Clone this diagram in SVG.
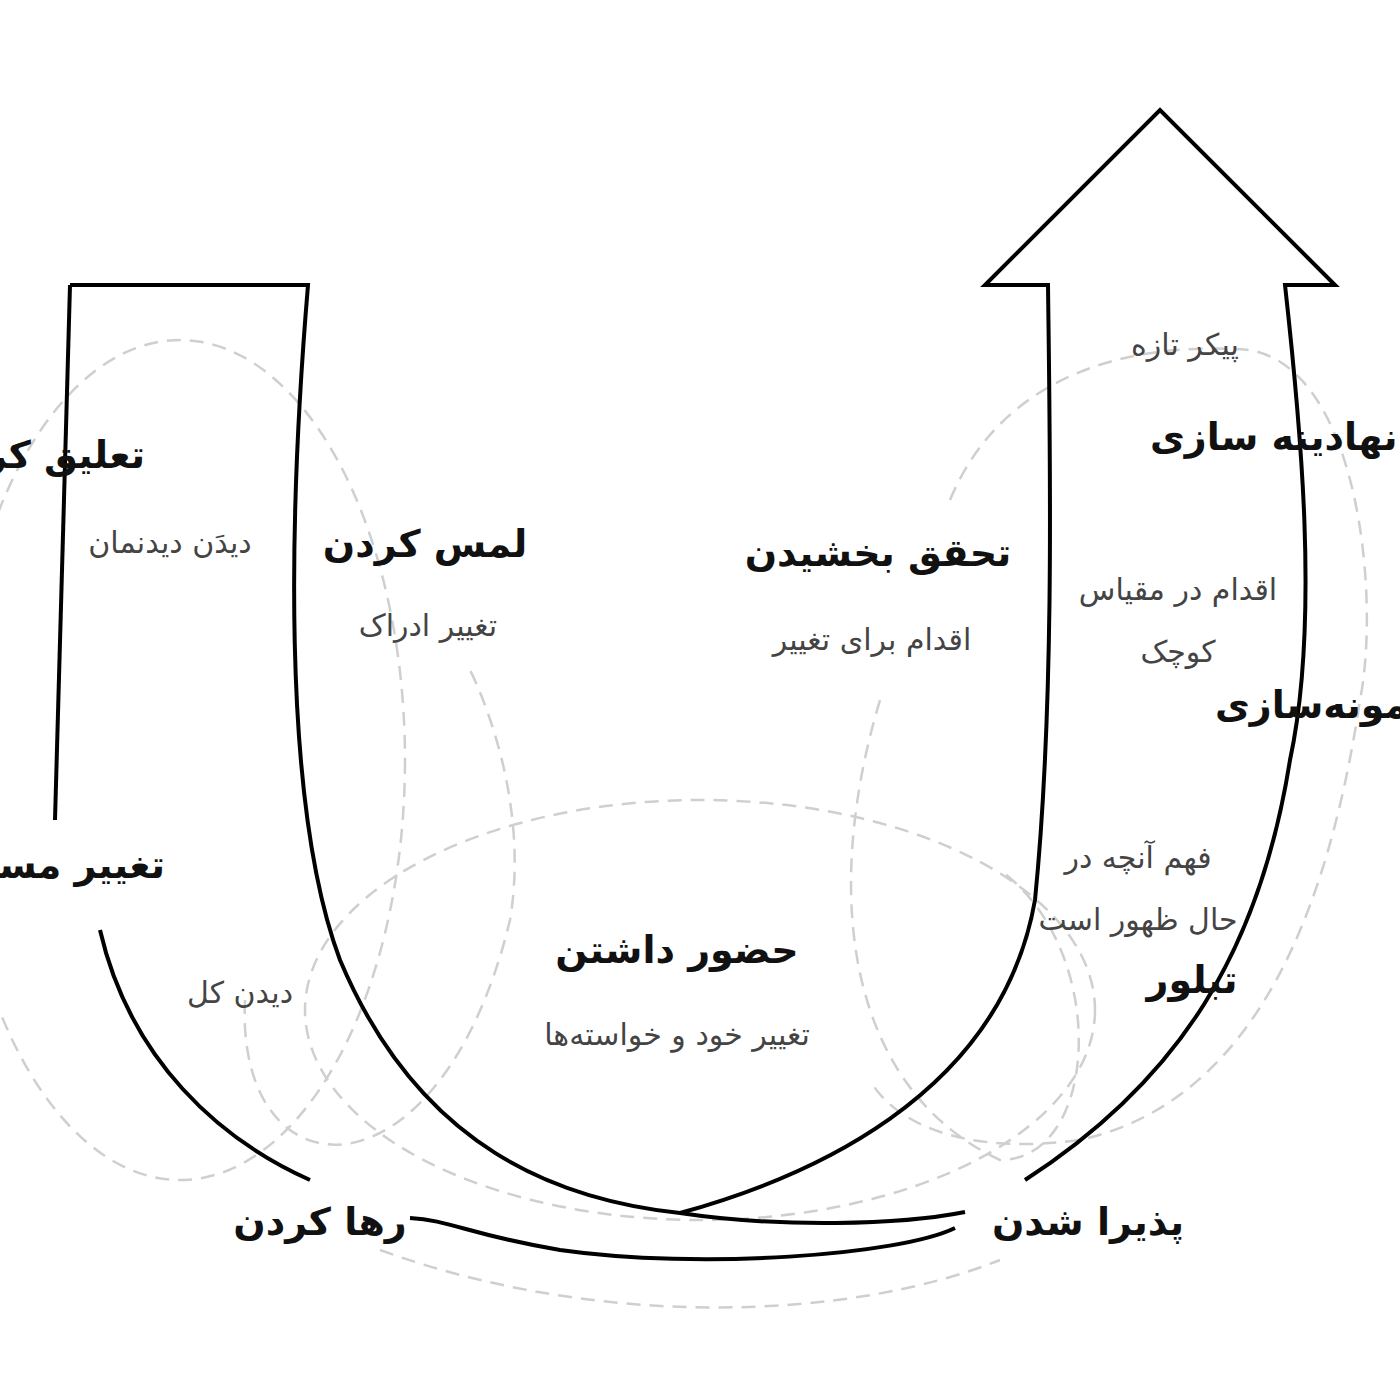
<svg xmlns="http://www.w3.org/2000/svg" width="1400" height="1400" viewBox="0 0 1400 1400">
<style>
.u{fill:none;stroke:#000;stroke-width:4;stroke-linejoin:miter}
.d{fill:none;stroke:#cfcfcf;stroke-width:2.5;stroke-dasharray:14 9}
.b{font-family:"DejaVu Sans",sans-serif;font-weight:bold;font-size:38px;fill:#111;direction:rtl}
.s{font-family:"DejaVu Sans",sans-serif;font-size:30px;fill:#444;direction:rtl}
</style>
<rect width="1400" height="1400" fill="#fff"/>
<g id="dashes">
<ellipse class="d" cx="180" cy="760" rx="225" ry="420"/>
<ellipse class="d" cx="700" cy="1010" rx="395" ry="210"/>
<path class="d" d="M245,1000 C235,1200 440,1210 510,920 C530,800 480,690 470,670"/>
<path class="d" d="M880,700 C820,900 850,1090 1000,1160 C1100,1160 1110,950 1000,870"/>
<path class="d" d="M950,500 C1000,380 1120,340 1250,350 C1360,370 1380,600 1360,700 C1330,900 1260,1100 1080,1140 C930,1160 880,1100 870,1080"/>
<path class="d" d="M380,1250 C600,1330 850,1320 1000,1260"/>
</g>
<g id="connectors">
<path class="u" d="M70,285 L308,285 C290,500 280,800 340,960 C420,1150 560,1200 680,1213 C800,1180 1000,1100 1035,900 C1055,700 1050,450 1048,285 L985,285 L1160,110 L1335,285 L1285,285 C1300,420 1320,620 1290,760 C1260,950 1180,1080 1025,1180"/>
<path class="u" d="M70,285 L55,820"/>
<path class="u" d="M100,930 C130,1060 220,1140 310,1180"/>
<path class="u" d="M410,1218 C450,1220 470,1235 560,1250 C700,1270 900,1255 955,1228"/>
<path class="u" d="M680,1213 C780,1228 900,1225 965,1212"/>
</g>
<g id="n1"><text class="b" x="145" y="468" text-anchor="start">تعلیق کردن</text><text class="s" x="170" y="553" text-anchor="middle">دیدَن دیدنمان</text></g>
<g id="n2"><text class="b" x="425" y="557" text-anchor="middle">لمس کردن</text><text class="s" x="428" y="636" text-anchor="middle">تغییر ادراک</text></g>
<g id="n3"><text class="b" x="165" y="878" text-anchor="start">تغییر مسیر</text><text class="s" x="240" y="1003" text-anchor="middle">دیدن کل</text></g>
<g id="n4"><text class="b" x="677" y="963" text-anchor="middle">حضور داشتن</text><text class="s" x="677" y="1045" text-anchor="middle">تغییر خود و خواسته‌ها</text></g>
<g id="n5"><text class="b" x="878" y="566" text-anchor="middle">تحقق بخشیدن</text><text class="s" x="872" y="650" text-anchor="middle">اقدام برای تغییر</text></g>
<g id="n6"><text class="s" x="1185" y="355" text-anchor="middle">پیکر تازه</text><text class="b" x="1150" y="450" text-anchor="end">نهادینه سازی</text></g>
<g id="n7"><text class="s" x="1178" y="600" text-anchor="middle">اقدام در مقیاس</text><text class="s" x="1178" y="662" text-anchor="middle">کوچک</text><text class="b" x="1215" y="718" text-anchor="end">نمونه‌سازی</text></g>
<g id="n8"><text class="s" x="1138" y="868" text-anchor="middle">فهم آنچه در</text><text class="s" x="1138" y="930" text-anchor="middle">حال ظهور است</text><text class="b" x="1192" y="993" text-anchor="middle">تبلور</text></g>
<g id="n9"><text class="b" x="320" y="1235" text-anchor="middle">رها کردن</text></g>
<g id="n10"><text class="b" x="1088" y="1235" text-anchor="middle">پذیرا شدن</text></g>
</svg>
